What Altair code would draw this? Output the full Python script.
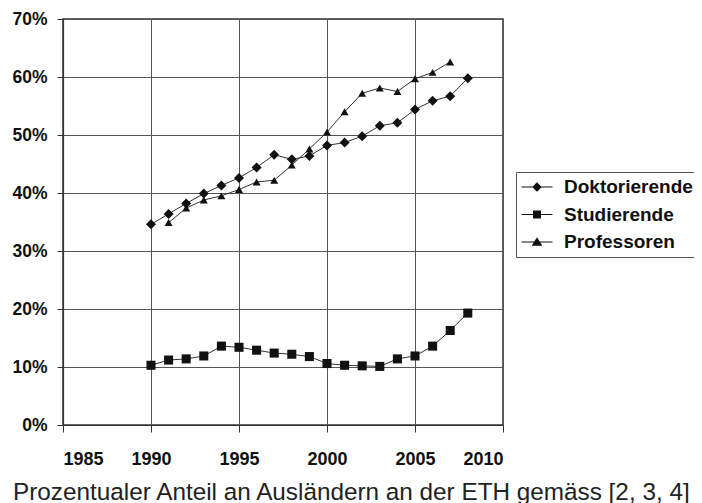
import altair as alt
import pandas as pd

# ---- data ----
years_doktorierende = list(range(1990, 2009))
doktorierende = [34.6, 36.4, 38.2, 39.9, 41.3, 42.6, 44.4, 46.6, 45.8, 46.4,
                 48.2, 48.7, 49.8, 51.6, 52.1, 54.4, 55.9, 56.7, 59.8]
years_studierende = list(range(1990, 2009))
studierende = [10.3, 11.2, 11.4, 11.9, 13.6, 13.4, 12.9, 12.4, 12.2, 11.8,
               10.6, 10.3, 10.2, 10.1, 11.4, 11.9, 13.6, 16.3, 19.3]
years_professoren = list(range(1991, 2008))
professoren = [34.9, 37.4, 38.8, 39.5, 40.6, 41.9, 42.2, 44.8, 47.6, 50.5,
               54.0, 57.2, 58.1, 57.5, 59.7, 60.8, 62.6]
series = ["Doktorierende", "Studierende", "Professoren"]
x_ticks = [1985, 1990, 1995, 2000, 2005, 2010]
y_ticks = [0.0, 0.1, 0.2, 0.3, 0.4, 0.5, 0.6, 0.7]
title_text = "Prozentualer Anteil an Ausländern an der ETH gemäss [2, 3, 4]"

rows = []
for name, yrs, vals in [(series[0], years_doktorierende, doktorierende),
                        (series[1], years_studierende, studierende),
                        (series[2], years_professoren, professoren)]:
    for j, v in zip(yrs, vals):
        rows.append({"Jahr": j, "Anteil": v / 100.0, "Serie": name})
df = pd.DataFrame(rows)

FONT = "Liberation Sans"

x_enc = alt.X("Jahr:Q", scale=alt.Scale(domain=[1985, 2010], nice=False, zero=False),
              axis=alt.Axis(values=x_ticks, format="d", title=None))
y_enc = alt.Y("Anteil:Q", scale=alt.Scale(domain=[0, 0.7], nice=False),
              axis=alt.Axis(values=y_ticks, format=".0%", title=None))

base = alt.Chart(df)

lines = base.mark_line(color="#333333", strokeWidth=1).encode(
    x=x_enc, y=y_enc, detail="Serie:N")

points = base.mark_point(filled=True, color="#111111", opacity=1).encode(
    x=x_enc, y=y_enc,
    shape=alt.Shape("Serie:N", scale=alt.Scale(domain=series,
                    range=["diamond", "square", "triangle-up"]), legend=None),
    size=alt.Size("Serie:N", scale=alt.Scale(domain=series, range=[100, 64, 140]),
                  legend=None),
)

# legend symbols: thin filled bar (the line) plus the marker
bar = "M-1.63,-0.055H1.63V0.055H-1.63Z"
legend_paths = [
    bar + "M0,-0.5L0.5,0L0,0.5L-0.5,0Z",
    bar + "M-0.42,-0.42H0.42V0.42H-0.42Z",
    bar + "M0,-0.5L0.56,0.4H-0.56Z",
]

legend_layer = base.transform_filter("datum.Jahr < 0").mark_point(
    filled=True, color="#111111", opacity=1).encode(
    x=x_enc, y=y_enc,
    shape=alt.Shape("Serie:N", scale=alt.Scale(domain=series, range=legend_paths),
                    legend=alt.Legend(
                        title=None, orient="none", legendX=453, legendY=153,
                        padding=5, strokeColor="#555555", fillColor="white",
                        symbolSize=361, symbolOffset=6, labelOffset=17,
                        symbolFillColor="#111111", symbolStrokeColor="#111111",
                        symbolStrokeWidth=0.5, symbolOpacity=1,
                        rowPadding=7.5, labelFont=FONT, labelFontSize=19,
                        labelFontWeight="bold", labelColor="#111111",
                        labelLimit=300)),
)

chart = alt.layer(lines, points, legend_layer).resolve_scale(
    shape="independent"
).properties(
    width=440, height=406,
    padding={"left": 55, "top": 11, "right": 191, "bottom": 78},
    autosize=alt.AutoSizeParams(type="none"),
    title=alt.TitleParams(title_text, orient="bottom", anchor="start", frame="group",
                          dx=-50, offset=31, baseline="alphabetic", font=FONT,
                          fontSize=24.3, fontWeight="normal", color="#222222"),
).configure_view(
    stroke="#333333", strokeWidth=1.5
).configure_axis(
    grid=True, gridColor="#555555", gridWidth=1, domainColor="#333333",
    domainWidth=1.2, tickColor="#333333", tickWidth=1,
    labelFont=FONT, labelFontWeight="bold", labelColor="#111111",
).configure_axisX(
    tickSize=7, labelPadding=18.5, labelFontSize=18
).configure_axisY(
    tickSize=6, labelPadding=10, labelFontSize=17.5
)

chart.save("out.html", embed_options={"renderer": "svg", "actions": False})
